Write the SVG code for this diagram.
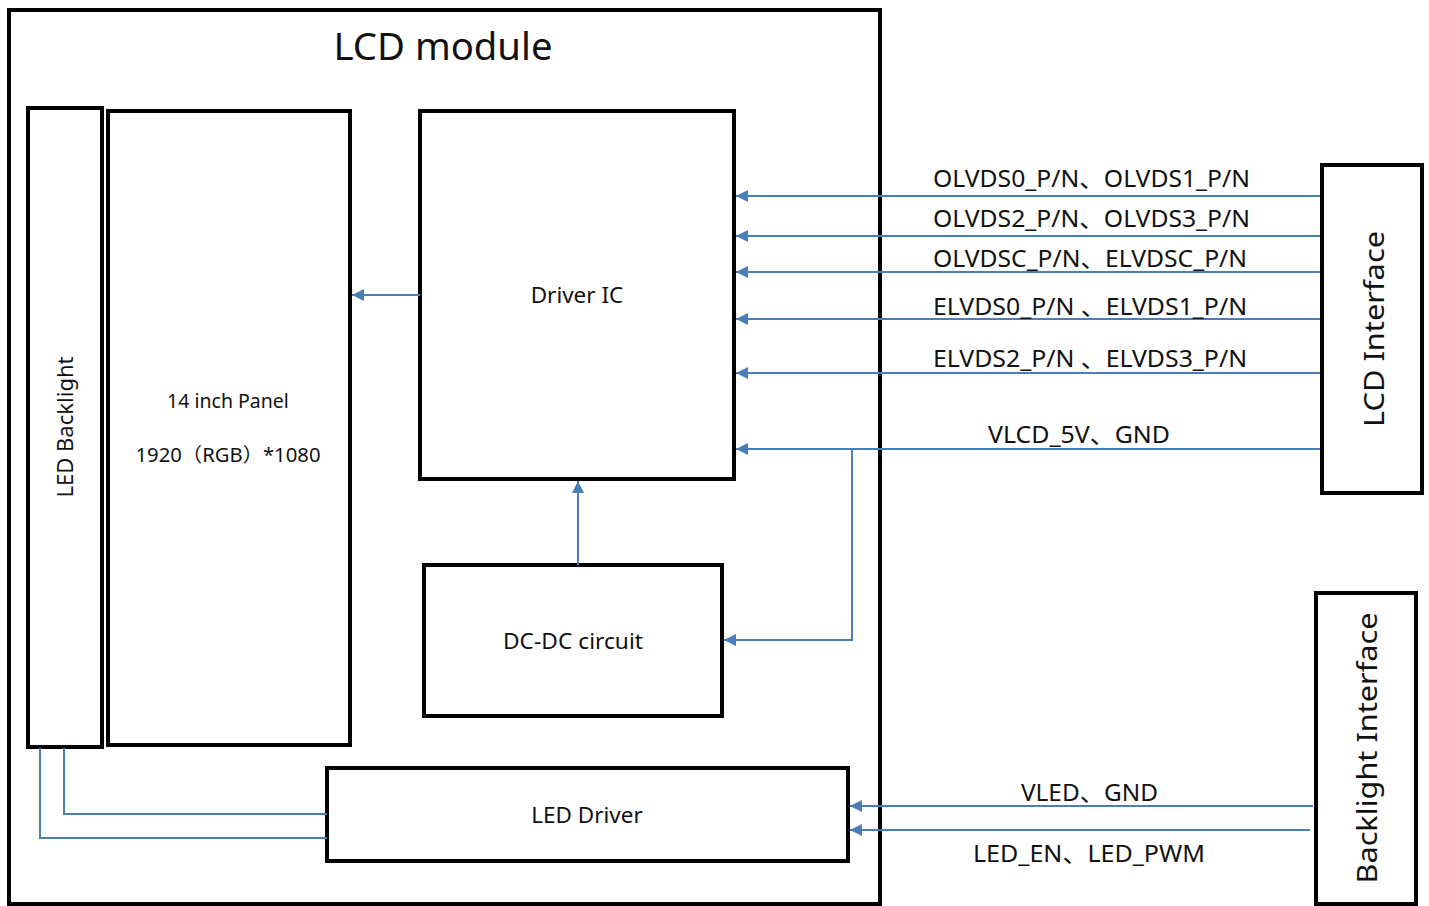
<svg xmlns="http://www.w3.org/2000/svg" width="1429" height="906" viewBox="0 0 1429 906">
<style>
.box{fill:#fff;stroke:#000;stroke-width:4}
.t{font-family:"Noto Sans","Noto Sans CJK SC",sans-serif;fill:#111}
.c{stroke:#4a7ebb;stroke-width:2;fill:none}
</style>
<defs>
<marker id="ah" viewBox="0 0 10 10" refX="10" refY="5" markerWidth="14" markerHeight="12" markerUnits="userSpaceOnUse" orient="auto">
<path d="M0,0 L10,5 L0,10 z" fill="#4a7ebb"/>
</marker>
</defs>
<rect width="1429" height="906" fill="#fff"/>
<g id="lcd-module">
<rect class="box" x="9" y="10" width="871" height="894"/>
<text class="t" x="443" y="60" font-size="38" text-anchor="middle" textLength="219" lengthAdjust="spacingAndGlyphs">LCD module</text>
</g>
<g id="led-backlight">
<rect class="box" x="28" y="108" width="74" height="639"/>
<text class="t" x="0" y="0" font-size="22" text-anchor="middle" textLength="141" lengthAdjust="spacingAndGlyphs" transform="translate(73,427) rotate(-90)">LED Backlight</text>
</g>
<g id="panel">
<rect class="box" x="108" y="111" width="242" height="634"/>
<text class="t" x="228" y="408" font-size="19.5" text-anchor="middle">14 inch Panel</text>
<text class="t" x="228" y="462" font-size="19.5" text-anchor="middle" textLength="185" lengthAdjust="spacingAndGlyphs">1920（RGB）*1080</text>
</g>
<g id="driver-ic">
<rect class="box" x="420" y="111" width="314" height="368"/>
<text class="t" x="577" y="303" font-size="22.5" text-anchor="middle">Driver IC</text>
</g>
<g id="dcdc">
<rect class="box" x="424" y="565" width="298" height="151"/>
<text class="t" x="573" y="649" font-size="22.5" text-anchor="middle" textLength="140" lengthAdjust="spacingAndGlyphs">DC-DC circuit</text>
</g>
<g id="led-driver">
<rect class="box" x="327" y="768" width="521" height="93"/>
<text class="t" x="587" y="823" font-size="22.5" text-anchor="middle">LED Driver</text>
</g>
<g id="lcd-interface">
<rect class="box" x="1322" y="165" width="100" height="328"/>
<text class="t" x="0" y="0" font-size="28" text-anchor="middle" textLength="196" lengthAdjust="spacingAndGlyphs" transform="translate(1384,329) rotate(-90)">LCD  Interface</text>
</g>
<g id="backlight-interface">
<rect class="box" x="1316" y="593" width="100" height="311"/>
<text class="t" x="0" y="0" font-size="28" text-anchor="middle" textLength="271" lengthAdjust="spacingAndGlyphs" transform="translate(1377,748) rotate(-90)">Backlight  Interface</text>
</g>
<g id="connectors">
<line class="c" x1="1320" y1="196" x2="736" y2="196" marker-end="url(#ah)"/>
<line class="c" x1="1320" y1="236" x2="736" y2="236" marker-end="url(#ah)"/>
<line class="c" x1="1320" y1="272" x2="736" y2="272" marker-end="url(#ah)"/>
<line class="c" x1="1320" y1="319" x2="736" y2="319" marker-end="url(#ah)"/>
<line class="c" x1="1320" y1="373" x2="736" y2="373" marker-end="url(#ah)"/>
<line class="c" x1="1320" y1="449" x2="736" y2="449" marker-end="url(#ah)"/>
<polyline class="c" points="852,449 852,640 724,640" marker-end="url(#ah)"/>
<line class="c" x1="420" y1="295" x2="352" y2="295" marker-end="url(#ah)"/>
<line class="c" x1="578" y1="565" x2="578" y2="481" marker-end="url(#ah)"/>
<polyline class="c" points="327,814 64,814 64,748"/>
<polyline class="c" points="327,838 40,838 40,748"/>
<line class="c" x1="1313" y1="806" x2="850" y2="806" marker-end="url(#ah)"/>
<line class="c" x1="1310" y1="830" x2="850" y2="830" marker-end="url(#ah)"/>
<g class="t" font-size="23" lengthAdjust="spacingAndGlyphs">
<text x="933" y="187" textLength="317" lengthAdjust="spacingAndGlyphs">OLVDS0_P/N、OLVDS1_P/N</text>
<text x="933" y="227" textLength="317" lengthAdjust="spacingAndGlyphs">OLVDS2_P/N、OLVDS3_P/N</text>
<text x="933" y="267" textLength="314" lengthAdjust="spacingAndGlyphs">OLVDSC_P/N、ELVDSC_P/N</text>
<text x="933" y="315" textLength="314" lengthAdjust="spacingAndGlyphs">ELVDS0_P/N 、ELVDS1_P/N</text>
<text x="933" y="367" textLength="314" lengthAdjust="spacingAndGlyphs">ELVDS2_P/N 、ELVDS3_P/N</text>
<text x="988" y="443" textLength="182" lengthAdjust="spacingAndGlyphs">VLCD_5V、GND</text>
<text x="1021" y="801" textLength="137" lengthAdjust="spacingAndGlyphs">VLED、GND</text>
<text x="973" y="862" textLength="232" lengthAdjust="spacingAndGlyphs">LED_EN、LED_PWM</text>
</g>
</g>
</svg>
